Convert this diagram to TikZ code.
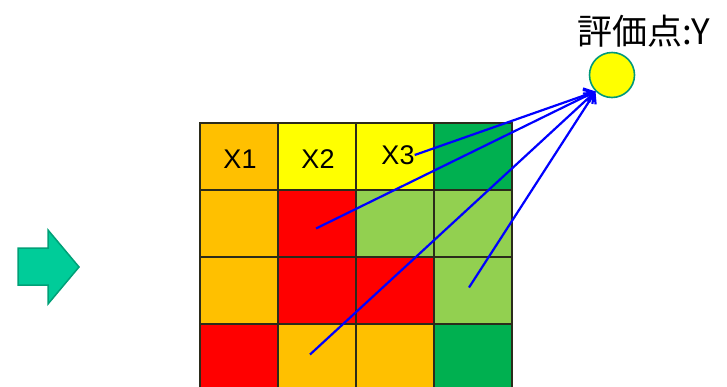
\documentclass[tikz,border=0pt]{standalone}
\usepackage{fontspec}
\setmainfont{Liberation Sans}
\newfontfamily\jpfont{Noto Sans CJK JP}
\usetikzlibrary{positioning,arrows.meta}
\definecolor{gridink}    {HTML}{2B2B1B}
\definecolor{cellorange} {HTML}{FFC000}
\definecolor{cellyellow} {HTML}{FFFF00}
\definecolor{cellred}    {HTML}{FF0000}
\definecolor{cellgreen}  {HTML}{92D050}
\definecolor{celldark}   {HTML}{00B050}
\definecolor{mintfill}   {HTML}{00CC99}
\definecolor{mintedge}   {HTML}{00A077}
\definecolor{pointedge}  {HTML}{00997A}
\definecolor{linkblue}   {HTML}{0000FF}
\tikzset{
  % --- nodes
  cell/.style  = {draw=gridink, line width=1.2pt, minimum width=78pt,
                  minimum height=67pt, inner sep=0pt},
  xlbl/.style  = {inner sep=0pt, font=\fontsize{27}{27}\selectfont},
  point/.style = {circle, draw=pointedge, fill=cellyellow, line width=1.6pt,
                  minimum size=45pt, inner sep=0pt},
  plbl/.style  = {inner sep=0pt, font=\jpfont\fontsize{35}{35}\selectfont},
  % --- edges
  link/.style  = {-{Straight Barb[length=9pt,width=14pt]}, draw=linkblue, line width=2.2pt},
}
\begin{document}
\begin{tikzpicture}[x=1pt,y=-1pt]
  \useasboundingbox (0,0) rectangle (727,386);
  % block arrow
  \filldraw[fill=mintfill, draw=mintedge, line width=1.5pt, line join=miter]
    (18,248) -- (48,248) -- (48,230) -- (79,267) -- (48,304) -- (48,285) -- (18,285) -- cycle;
  % grid
  \foreach \r/\cols in {0/{cellorange,cellyellow,cellyellow,celldark},
                        1/{cellorange,cellred,cellgreen,cellgreen},
                        2/{cellorange,cellred,cellred,cellgreen},
                        3/{cellred,cellorange,cellorange,celldark}}
    \foreach \c [count=\k from 0] in \cols
      \node[cell, fill=\c] (c\r\k) at ({239+78*\k},{156.5+67*\r}) {};
  \node[xlbl] (x1) at (240,159) {X1};
  \node[xlbl] (x2) at (318,159) {X2};
  \node[xlbl] (x3) at (398,155) {X3};
  % evaluation point
  \node[point] (y) at (612,75) {};
  \node[plbl] (ylbl) at (644,31) {評価点:Y};
  \coordinate (hit) at (y.225);
  \draw[link] (x3.east) -- (hit);
  \draw[link] ([xshift=-1pt,yshift=-5pt]c11.center) -- (hit);
  \draw[link] ([xshift=-7pt,yshift=3pt]c31.center) -- (hit);
  \draw[link] ([xshift=-4pt,yshift=3pt]c23.center) -- (hit);
\end{tikzpicture}
\end{document}
